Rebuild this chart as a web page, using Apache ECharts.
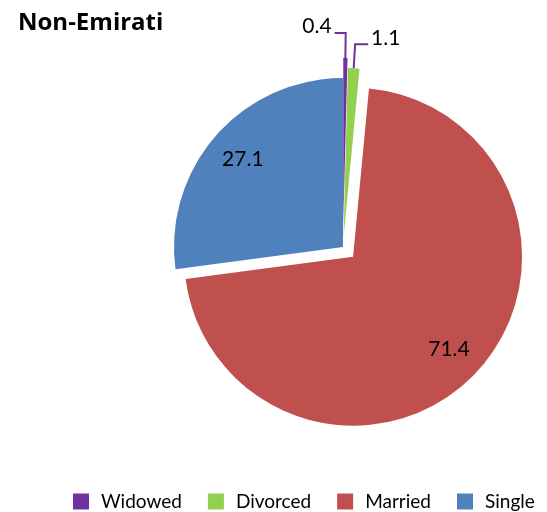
<!DOCTYPE html>
<html>
<head>
<meta charset="utf-8">
<script src="https://cdn.jsdelivr.net/npm/echarts@6.0.0/dist/echarts.min.js"></script>
<style>
  html, body { margin: 0; padding: 0; background: #fff; }
  #chart { width: 547px; height: 512px; }
</style>
</head>
<body>
<div id="chart"></div>
<script>
// data
var categories = ['Widowed', 'Divorced', 'Married', 'Single'];
var values = [0.4, 1.1, 71.4, 27.1];

// styles
var colors = ['#7030a0', '#92d050', '#c0504d', '#4f81bd'];
var explode = [20, 10, 14, 0]; // px each slice is pulled out
var cx = 343, cy = 247, R = 169;
var font = 'Lato';

var total = values.reduce(function (a, b) { return a + b; }, 0);

// mid angle of slice i, clockwise from 12 o'clock (radians)
function midAngle(i) {
  var before = 0;
  for (var j = 0; j < i; j++) before += values[j];
  return (before + values[i] / 2) / total * Math.PI * 2;
}
function sliceCenter(i) {
  var a = midAngle(i);
  return [cx + explode[i] * Math.sin(a), cy - explode[i] * Math.cos(a)];
}

function sliceData(i, label, labelLine) {
  return categories.map(function (name, j) {
    return {
      name: name,
      value: values[j],
      itemStyle: { color: j === i ? colors[i] : 'rgba(0,0,0,0)', borderWidth: 0 },
      label: j === i && label ? label : { show: false },
      labelLine: j === i && labelLine ? labelLine : { show: false }
    };
  });
}

var outLabel = { show: true, position: 'outside', formatter: '{c}', fontSize: 21, fontFamily: font, color: '#000', distanceToLabelLine: 3 };
var inLabel = { show: true, position: 'inside', formatter: '{c}', fontSize: 21, fontFamily: font, color: '#000' };

var series = [];
categories.forEach(function (name, i) {
  var s = {
    type: 'pie',
    center: sliceCenter(i),
    radius: [0, R],
    startAngle: 90,
    clockwise: true,
    silent: true,
    animation: false,
    avoidLabelOverlap: false,
    label: { show: false },
    labelLine: { show: false },
    emphasis: { disabled: true },
    data: sliceData(i)
  };
  if (i === 0) {
    // Widowed: leader line bends to the left
    s.data = sliceData(i, outLabel, { show: true, length: 25, length2: 11, lineStyle: { color: '#7030a0', width: 2 } });
    s.labelLayout = function (p) {
      var pts = p.labelLinePoints;
      if (!pts) return {};
      var len2 = pts[2][0] - pts[1][0];
      return {
        x: pts[1][0] - len2 - 3,
        y: pts[1][1] - 7,
        align: 'right',
        labelLinePoints: [pts[0], pts[1], [pts[1][0] - len2, pts[1][1]]]
      };
    };
  } else if (i === 1) {
    s.data = sliceData(i, outLabel, { show: true, length: 24, length2: 13, lineStyle: { color: '#7030a0', width: 2 } });
    s.labelLayout = function (p) { return { dy: -6 }; };
  }
  series.push(s);
});

// inside labels sit further out than mid-radius, so use a transparent ring
[2, 3].forEach(function (i) {
  series.push({
    type: 'pie',
    center: sliceCenter(i),
    radius: [R * 0.54, R],
    startAngle: 90,
    silent: true,
    animation: false,
    avoidLabelOverlap: false,
    emphasis: { disabled: true },
    data: sliceData(i, inLabel).map(function (d) {
      d.itemStyle = { color: 'rgba(0,0,0,0)', borderWidth: 0 };
      return d;
    })
  });
});

var chart = echarts.init(document.getElementById('chart'));
chart.setOption({
  backgroundColor: '#fff',
  title: {
    text: 'Non-Emirati',
    left: 13,
    top: 6,
    textStyle: { fontFamily: 'Open Sans', fontWeight: 'bold', fontSize: 24, color: '#000' }
  },
  legend: {
    left: 68,
    top: 487,
    itemWidth: 16,
    itemHeight: 16,
    itemGap: 26,
    icon: 'rect',
    selectedMode: false,
    textStyle: { fontFamily: font, fontSize: 19, color: '#000', padding: [0, 0, 0, 7] },
    data: categories.map(function (name, i) {
      return { name: name, itemStyle: { color: colors[i] } };
    })
  },
  series: series
});
</script>
</body>
</html>
